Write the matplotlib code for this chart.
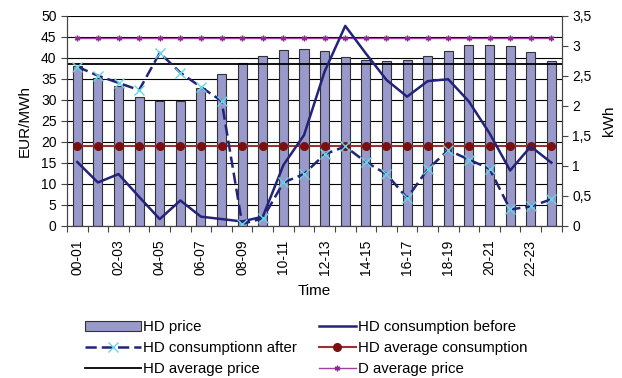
import numpy as np
import matplotlib
matplotlib.use('Agg')
import matplotlib.pyplot as plt
from matplotlib.ticker import FuncFormatter

plt.rcParams['font.family'] = ['Liberation Sans', 'DejaVu Sans']
plt.rcParams['font.size'] = 10

# hourly slots
hours = ['00-01', '01-02', '02-03', '03-04', '04-05', '05-06', '06-07', '07-08',
         '08-09', '09-10', '10-11', '11-12', '12-13', '13-14', '14-15', '15-16',
         '16-17', '17-18', '18-19', '19-20', '20-21', '21-22', '22-23', '23-24']

# EUR/MWh
hd_price = [38.1, 35.1, 33.3, 30.7, 29.8, 29.8, 32.7, 36.0, 38.7, 40.4, 41.9, 42.1,
            41.7, 40.1, 39.4, 39.1, 39.4, 40.5, 41.5, 43.1, 43.1, 42.9, 41.3, 39.1]
hd_avg_price = 38.4
d_avg_price = 44.6

# kWh
cons_before = [1.06, 0.72, 0.86, 0.48, 0.11, 0.42, 0.15, 0.11, 0.07, 0.15, 1.01, 1.51,
               2.57, 3.33, 2.87, 2.43, 2.15, 2.41, 2.44, 2.07, 1.54, 0.92, 1.32, 1.05]
cons_after = [2.65, 2.50, 2.38, 2.26, 2.88, 2.55, 2.31, 2.08, 0.03, 0.12, 0.72, 0.86,
              1.19, 1.32, 1.06, 0.86, 0.46, 0.94, 1.26, 1.10, 0.95, 0.27, 0.32, 0.44]
hd_avg_cons = 1.32

x = np.arange(len(hours))
navy = '#23237a'

fig = plt.figure(figsize=(6.22, 3.78), dpi=100)
ax = fig.add_axes([0.1077, 0.403, 0.7953, 0.5555])
ax2 = ax.twinx()

# price side
ax.set_axisbelow(True)
ax.yaxis.grid(True, color='black', linewidth=0.8)
bars = ax.bar(x, hd_price, width=0.44, color='#9999cc', edgecolor='#333333',
              linewidth=0.8, label='HD price')
avgp, = ax.plot([-0.5, 23.7], [hd_avg_price] * 2, color='black', linewidth=1.3,
                label='HD average price')
davg, = ax.plot(x, [d_avg_price] * len(x), color='#a040a0', linewidth=1.0,
                marker=(6, 2, 0), markersize=4, markeredgewidth=1.0,
                markeredgecolor='#8a2b8a', label='D average price')

ax.set_xlim(-0.5, 23.5)
ax.set_ylim(0, 50)
ax.set_yticks(np.arange(0, 51, 5))
ax.set_ylabel('EUR/MWh', fontsize=11)
ax.yaxis.set_label_coords(-0.072, 0.5)

ax.set_xticks(np.arange(-0.5, 24, 1))
ax.set_xticklabels([])
ax.set_xticks(x[::2], hours[::2], minor=True, rotation=90)
ax.tick_params(axis='x', which='major', direction='out', length=4, color='#444444')
ax.tick_params(axis='x', which='minor', length=0, pad=10)
ax.tick_params(axis='y', direction='out', length=4, color='#444444')
ax.set_xlabel('Time', fontsize=11, labelpad=6)

# consumption side
avgc, = ax2.plot(x, [hd_avg_cons] * len(x), color='#993333', linewidth=1.5,
                 marker='o', markersize=5.5, markerfacecolor='#7a1010',
                 markeredgecolor='#7a1010', label='HD average consumption')
before, = ax2.plot(x, cons_before, color=navy, linewidth=1.8,
                   label='HD consumption before')
after, = ax2.plot(x, cons_after, color=navy, linewidth=1.8, linestyle=(0, (4.5, 2)),
                  marker='x', markersize=7, markeredgecolor='#66d5e5',
                  markeredgewidth=1.0, label='HD consumptionn after')
ax2.set_ylim(0, 3.5)
ax2.set_yticks(np.arange(0, 3.51, 0.5))
ax2.yaxis.set_major_formatter(FuncFormatter(lambda v, p: ('%g' % v).replace('.', ',')))
ax2.tick_params(axis='y', direction='out', length=4, color='#444444')
ax2.set_ylabel('kWh', fontsize=11)
ax2.yaxis.set_label_coords(1.082, 0.5)

for a in (ax, ax2):
    a.spines['top'].set_visible(False)
    for s in ('left', 'right', 'bottom'):
        a.spines[s].set_color('#444444')

fig.legend([bars, after, avgp], ['HD price', 'HD consumptionn after', 'HD average price'],
           loc='upper left', bbox_to_anchor=(0.125, 0.172), frameon=False,
           handlelength=3.7, handletextpad=0.15, labelspacing=0.45, fontsize=10.8,
           borderpad=0)
fig.legend([before, avgc, davg],
           ['HD consumption before', 'HD average consumption', 'D average price'],
           loc='upper left', bbox_to_anchor=(0.5, 0.172), frameon=False,
           handlelength=2.5, handletextpad=0.15, labelspacing=0.45, fontsize=10.8,
           borderpad=0)

fig.savefig('out.png', dpi=100)
